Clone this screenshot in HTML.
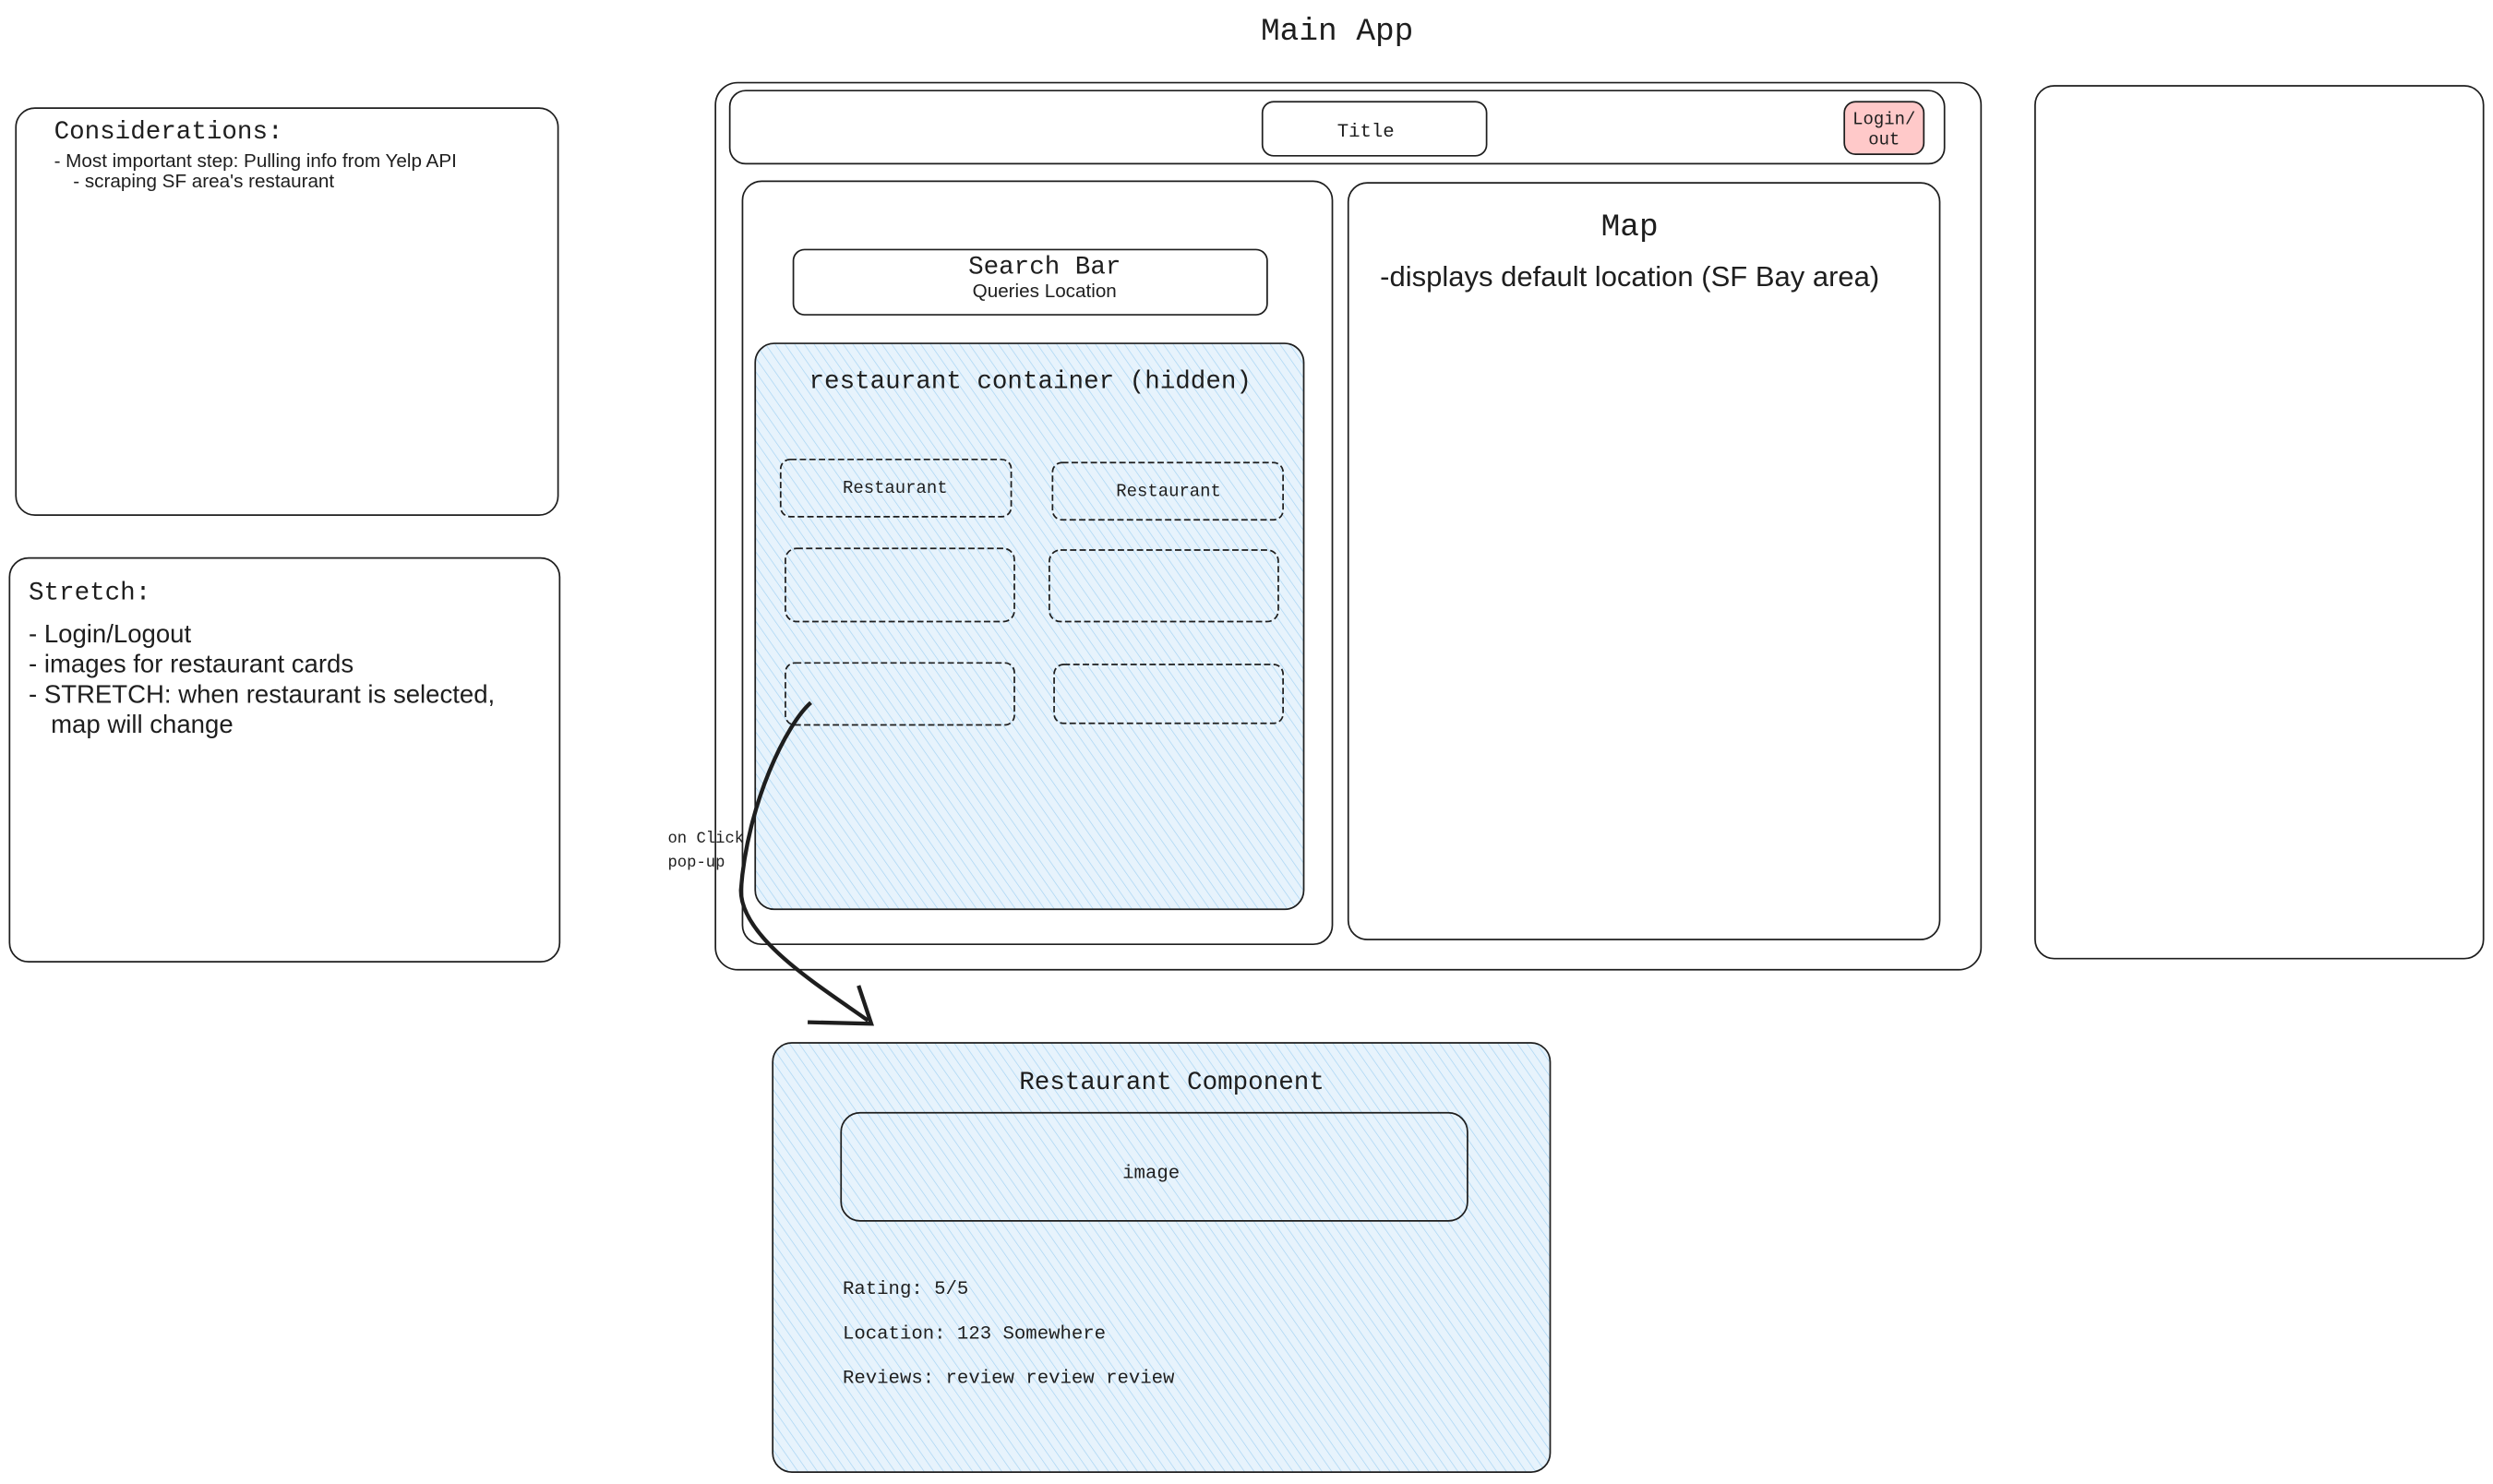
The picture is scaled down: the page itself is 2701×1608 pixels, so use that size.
<!DOCTYPE html>
<html><head><meta charset="utf-8"><style>
html,body{margin:0;padding:0;background:#fff;width:2701px;height:1608px;overflow:hidden}
svg{display:block}
.m{font-family:"Liberation Mono","DejaVu Sans Mono",monospace;fill:#1e1e1e}
.s{font-family:"Liberation Sans","DejaVu Sans",sans-serif;fill:#1e1e1e}
</style></head><body>
<svg width="2701" height="1608" viewBox="0 0 1568 933.5" preserveAspectRatio="none" xmlns="http://www.w3.org/2000/svg">
<defs>
<pattern id="h" width="5" height="5" patternUnits="userSpaceOnUse" patternTransform="rotate(-35)">
<rect width="5" height="5" fill="#e7f3fc"/>
<line x1="0" y1="0" x2="0" y2="5" stroke="#a5d3f3" stroke-width="0.8"/>
</pattern>
</defs>
<g fill="none" stroke="#1e1e1e" stroke-width="1">
<text class="m" x="841" y="25" font-size="20" text-anchor="middle" stroke="none">Main App</text>
<rect x="10" y="68" width="341" height="256" rx="12"/>
<rect x="6" y="351" width="346" height="254" rx="12"/>
<rect x="450" y="52" width="796" height="558" rx="14"/>
<rect x="459" y="57" width="764" height="46" rx="10"/>
<rect x="794" y="64" width="141" height="34" rx="7"/>
<rect x="1160" y="64" width="50" height="33" rx="7" fill="#ffc9c9"/>
<rect x="467" y="114" width="371" height="480" rx="12"/>
<rect x="499" y="157" width="298" height="41" rx="7"/>
<rect x="475" y="216" width="345" height="356" rx="12" fill="url(#h)"/>
<g stroke-dasharray="4 2">
<rect x="491" y="289" width="145" height="36" rx="6"/>
<rect x="662" y="291" width="145" height="36" rx="6"/>
<rect x="494" y="345" width="144" height="46" rx="7"/>
<rect x="660" y="346" width="144" height="45" rx="7"/>
<rect x="494" y="417" width="144" height="39" rx="6"/>
<rect x="663" y="418" width="144" height="37" rx="6"/>
</g>
<rect x="848" y="115" width="372" height="476" rx="12"/>
<rect x="1280" y="54" width="282" height="549" rx="12"/>
<rect x="486" y="656" width="489" height="270" rx="12" fill="url(#h)"/>
<rect x="529" y="700" width="394" height="68" rx="12"/>
<path d="M510 442 C495 455,470 505,466 560 C466 590,515 620,546 642" stroke-width="2.5"/>
<path d="M508 643 L548 644 L540 620" stroke-width="2.5"/>
</g>
<text class="m" x="34" y="87" font-size="16">Considerations:</text>
<text class="s" x="34" y="105" font-size="12">- Most important step: Pulling info from Yelp API</text>
<text class="s" x="46" y="118" font-size="12">- scraping SF area's restaurant</text>
<text class="m" x="18" y="377" font-size="16">Stretch:</text>
<text class="s" x="18" y="404" font-size="16">- Login/Logout</text>
<text class="s" x="18" y="423" font-size="16">- images for restaurant cards</text>
<text class="s" x="18" y="442" font-size="16">- STRETCH: when restaurant is selected,</text>
<text class="s" x="32" y="461" font-size="16">map will change</text>
<text class="m" x="859" y="86" font-size="12" text-anchor="middle">Title</text>
<text class="m" x="1185" y="78" font-size="11" text-anchor="middle">Login/</text>
<text class="m" x="1185" y="91" font-size="11" text-anchor="middle">out</text>
<text class="m" x="657" y="172" font-size="16" text-anchor="middle">Search Bar</text>
<text class="s" x="657" y="187" font-size="12" text-anchor="middle">Queries Location</text>
<text class="m" x="648" y="244" font-size="16" text-anchor="middle">restaurant container (hidden)</text>
<text class="m" x="563" y="310" font-size="11" text-anchor="middle">Restaurant</text>
<text class="m" x="735" y="312" font-size="11" text-anchor="middle">Restaurant</text>
<text class="m" x="1025" y="148" font-size="20" text-anchor="middle">Map</text>
<text class="s" x="868" y="180" font-size="18">-displays default location (SF Bay area)</text>
<text class="m" x="420" y="530" font-size="10">on Click,</text>
<text class="m" x="420" y="545" font-size="10">pop-up</text>
<text class="m" x="737" y="685" font-size="16" text-anchor="middle">Restaurant Component</text>
<text class="m" x="724" y="741" font-size="12" text-anchor="middle">image</text>
<text class="m" x="530" y="814" font-size="12">Rating: 5/5</text>
<text class="m" x="530" y="842" font-size="12">Location: 123 Somewhere</text>
<text class="m" x="530" y="870" font-size="12">Reviews: review review review</text>
</svg>
</body></html>
